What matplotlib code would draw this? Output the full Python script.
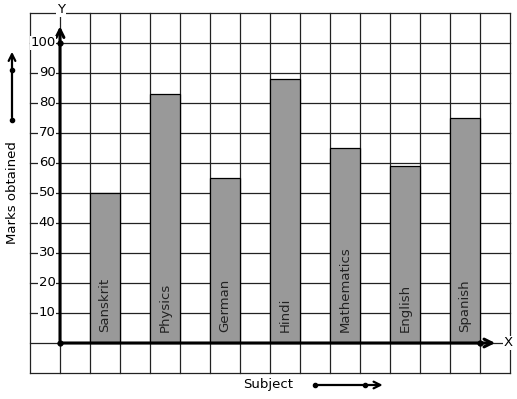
import matplotlib
matplotlib.use("Agg")
import matplotlib.pyplot as plt

subjects = ["Sanskrit", "Physics", "German", "Hindi", "Mathematics", "English", "Spanish"]
marks = [50, 83, 55, 88, 65, 59, 75]
y_ticks = [10, 20, 30, 40, 50, 60, 70, 80, 90, 100]

fig = plt.figure(figsize=(5.17, 3.99), dpi=100)
ax = fig.add_axes([0, 0, 1, 1])
ax.set_xlim(-2, 15.2333)
ax.set_ylim(-18.667, 114.333)
ax.axis("off")

# grid of squares
for gx in range(-1, 16):
    ax.plot([gx, gx], [-10, 110], color="#222222", lw=0.9, zorder=1)
for gy in range(-10, 111, 10):
    ax.plot([-1, 15], [gy, gy], color="#222222", lw=0.9, zorder=1)

# bars, one empty column between them
xpos = [1.5 + 2 * i for i in range(len(subjects))]
ax.bar(xpos, marks, width=1, color="#999999", edgecolor="black", lw=0.9, zorder=2)
for x, name in zip(xpos, subjects):
    ax.text(x, 3.5, name, rotation=90, ha="center", va="bottom", fontsize=9.5,
            color="#222222", zorder=3)

# axes with open arrow heads
ax.annotate("", xy=(14.6, 0), xytext=(0, 0),
            arrowprops=dict(arrowstyle="->", lw=2.2, color="black", mutation_scale=14), zorder=4)
ax.annotate("", xy=(0, 106.5), xytext=(0, 0),
            arrowprops=dict(arrowstyle="->", lw=2.2, color="black", mutation_scale=14), zorder=4)
ax.plot([0, 0, 14], [0, 100, 0], "o", color="black", ms=3.5, zorder=5)

ax.text(14.95, 0, "X", ha="center", va="center", fontsize=9.5,
        bbox=dict(fc="white", ec="none", pad=0.5), zorder=5)
ax.text(0.03, 111, "Y", ha="center", va="center", fontsize=9.5,
        bbox=dict(fc="white", ec="none", pad=0.5), zorder=5)

for v in y_ticks:
    ax.text(-0.15, v, str(v), ha="right", va="center", fontsize=9.5,
            bbox=dict(fc="white", ec="none", pad=0.3), zorder=5)

# axis captions with small arrows
ax.text(-1.6, 50.3, "Marks obtained", rotation=90, ha="center", va="center", fontsize=9.5)
ax.annotate("", xy=(-1.6, 98), xytext=(-1.6, 74.3),
            arrowprops=dict(arrowstyle="->", lw=1.6, color="black", mutation_scale=12))
ax.plot([-1.6, -1.6], [74.3, 91], "o", color="black", ms=3)

ax.text(6.93, -14, "Subject", ha="center", va="center", fontsize=9.5)
ax.annotate("", xy=(10.85, -14), xytext=(8.5, -14),
            arrowprops=dict(arrowstyle="->", lw=1.6, color="black", mutation_scale=12))
ax.plot([8.5, 10.17], [-14, -14], "o", color="black", ms=3)

fig.savefig("out.png", dpi=100)
